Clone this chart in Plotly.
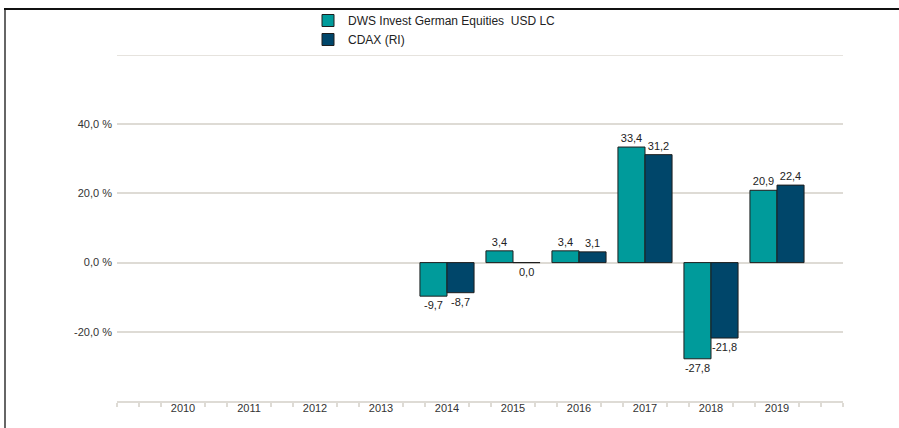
import plotly.graph_objects as go

years = ["2010", "2011", "2012", "2013", "2014", "2015", "2016", "2017", "2018", "2019"]
fund = [None, None, None, None, -9.7, 3.4, 3.4, 33.4, -27.8, 20.9]
bench = [None, None, None, None, -8.7, 0.0, 3.1, 31.2, -21.8, 22.4]
fund_name = "DWS Invest German Equities  USD LC"
bench_name = "CDAX (RI)"
y_ticks = [-20, 0, 20, 40]

W, H = 899, 428
ML, MR, MT, MB = 117, 56, 55, 27
PW, PH = W - ML - MR, H - MT - MB
BARGAP = 0.18

xs = list(range(len(years)))

def fmt(v):
    return "" if v is None else f"{v:.1f}".replace(".", ",")

fig = go.Figure()
annotations = []
series = [(fund_name, fund, "#009b9b"), (bench_name, bench, "#00466a")]
bw = (1 - BARGAP) / len(series)
for k, (name, vals, col) in enumerate(series):
    fig.add_trace(go.Bar(
        x=xs, y=vals, name=name,
        marker=dict(color=col, line=dict(color="#1e1e1e", width=1)),
        text=[fmt(v) if (v is not None and v != 0) else "" for v in vals],
        textposition="outside",
        textfont=dict(size=11, color="#222222", family="Liberation Sans, Arial"),
        cliponaxis=False,
    ))
    off = -(1 - BARGAP) / 2 + bw * (k + 0.5)
    for i, v in enumerate(vals):
        if v == 0:
            annotations.append(dict(x=xs[i] + off, y=0, xref="x", yref="y", text=fmt(v),
                                    showarrow=False, yanchor="top", yshift=-1,
                                    font=dict(size=11, color="#222222")))

minor_vals = []
for i in range(-1, len(years) + 1):
    minor_vals += [i - 1/3, i + 1/3]
minor_vals = [v for v in minor_vals if -1 <= v <= len(years)] + [-1, len(years)]

fig.update_layout(
    template="none",
    width=W, height=H,
    margin=dict(l=ML, r=MR, t=MT, b=MB, autoexpand=False),
    paper_bgcolor="white", plot_bgcolor="white",
    separators=",.",
    barmode="group", bargap=BARGAP, bargroupgap=0,
    font=dict(family="Liberation Sans, Arial", size=11, color="#333333"),
    showlegend=True,
    legend=dict(x=308 / W, xref="container", xanchor="left",
                y=1 - 6 / H, yref="container", yanchor="top",
                orientation="v", font=dict(size=12, color="#222222"),
                bgcolor="rgba(0,0,0,0)", borderwidth=0, tracegroupgap=0, itemwidth=30),
    annotations=annotations,
    xaxis=dict(range=[-1, len(years)], tickmode="array", tickvals=xs, ticktext=years,
               color="#333333",
               ticks="", showgrid=False, zeroline=False,
               showline=True, linecolor="#dedbd5", linewidth=2,
               tickfont=dict(size=11, color="#333333", family="Liberation Sans, Arial"),
               ticklabelstandoff=-4,
               minor=dict(tickmode="array", tickvals=minor_vals, ticks="outside",
                          ticklen=4, tickcolor="#dedbd5", tickwidth=1.5, showgrid=False)),
    yaxis=dict(range=[-40, 60], tickmode="array", tickvals=y_ticks,
               ticktext=[fmt(v) + " %" for v in y_ticks],
               color="#333333",
               showgrid=True, gridcolor="#dedbd5", gridwidth=1.5,
               zeroline=True, zerolinecolor="#dedbd5", zerolinewidth=1.5,
               showline=False, ticks="", ticklabelstandoff=4,
               tickfont=dict(size=11, color="#333333")),
    shapes=[
        dict(type="line", xref="paper", yref="y", x0=0, x1=1, y0=60, y1=60,
             line=dict(color="#e6e3de", width=2)),
        dict(type="line", xref="paper", yref="paper",
             x0=(4 - ML) / PW, x1=1 + MR / PW, y0=(H - MB - 9) / PH, y1=(H - MB - 9) / PH,
             line=dict(color="#111111", width=2)),
        dict(type="line", xref="paper", yref="paper",
             x0=(5 - ML) / PW, x1=(5 - ML) / PW, y0=-MB / PH, y1=(H - MB - 10) / PH,
             line=dict(color="#666666", width=2)),
    ],
)

fig.write_html("out.html", config={"displayModeBar": False},
               post_script="document.body.style.margin='0';document.body.style.overflow='hidden';")
